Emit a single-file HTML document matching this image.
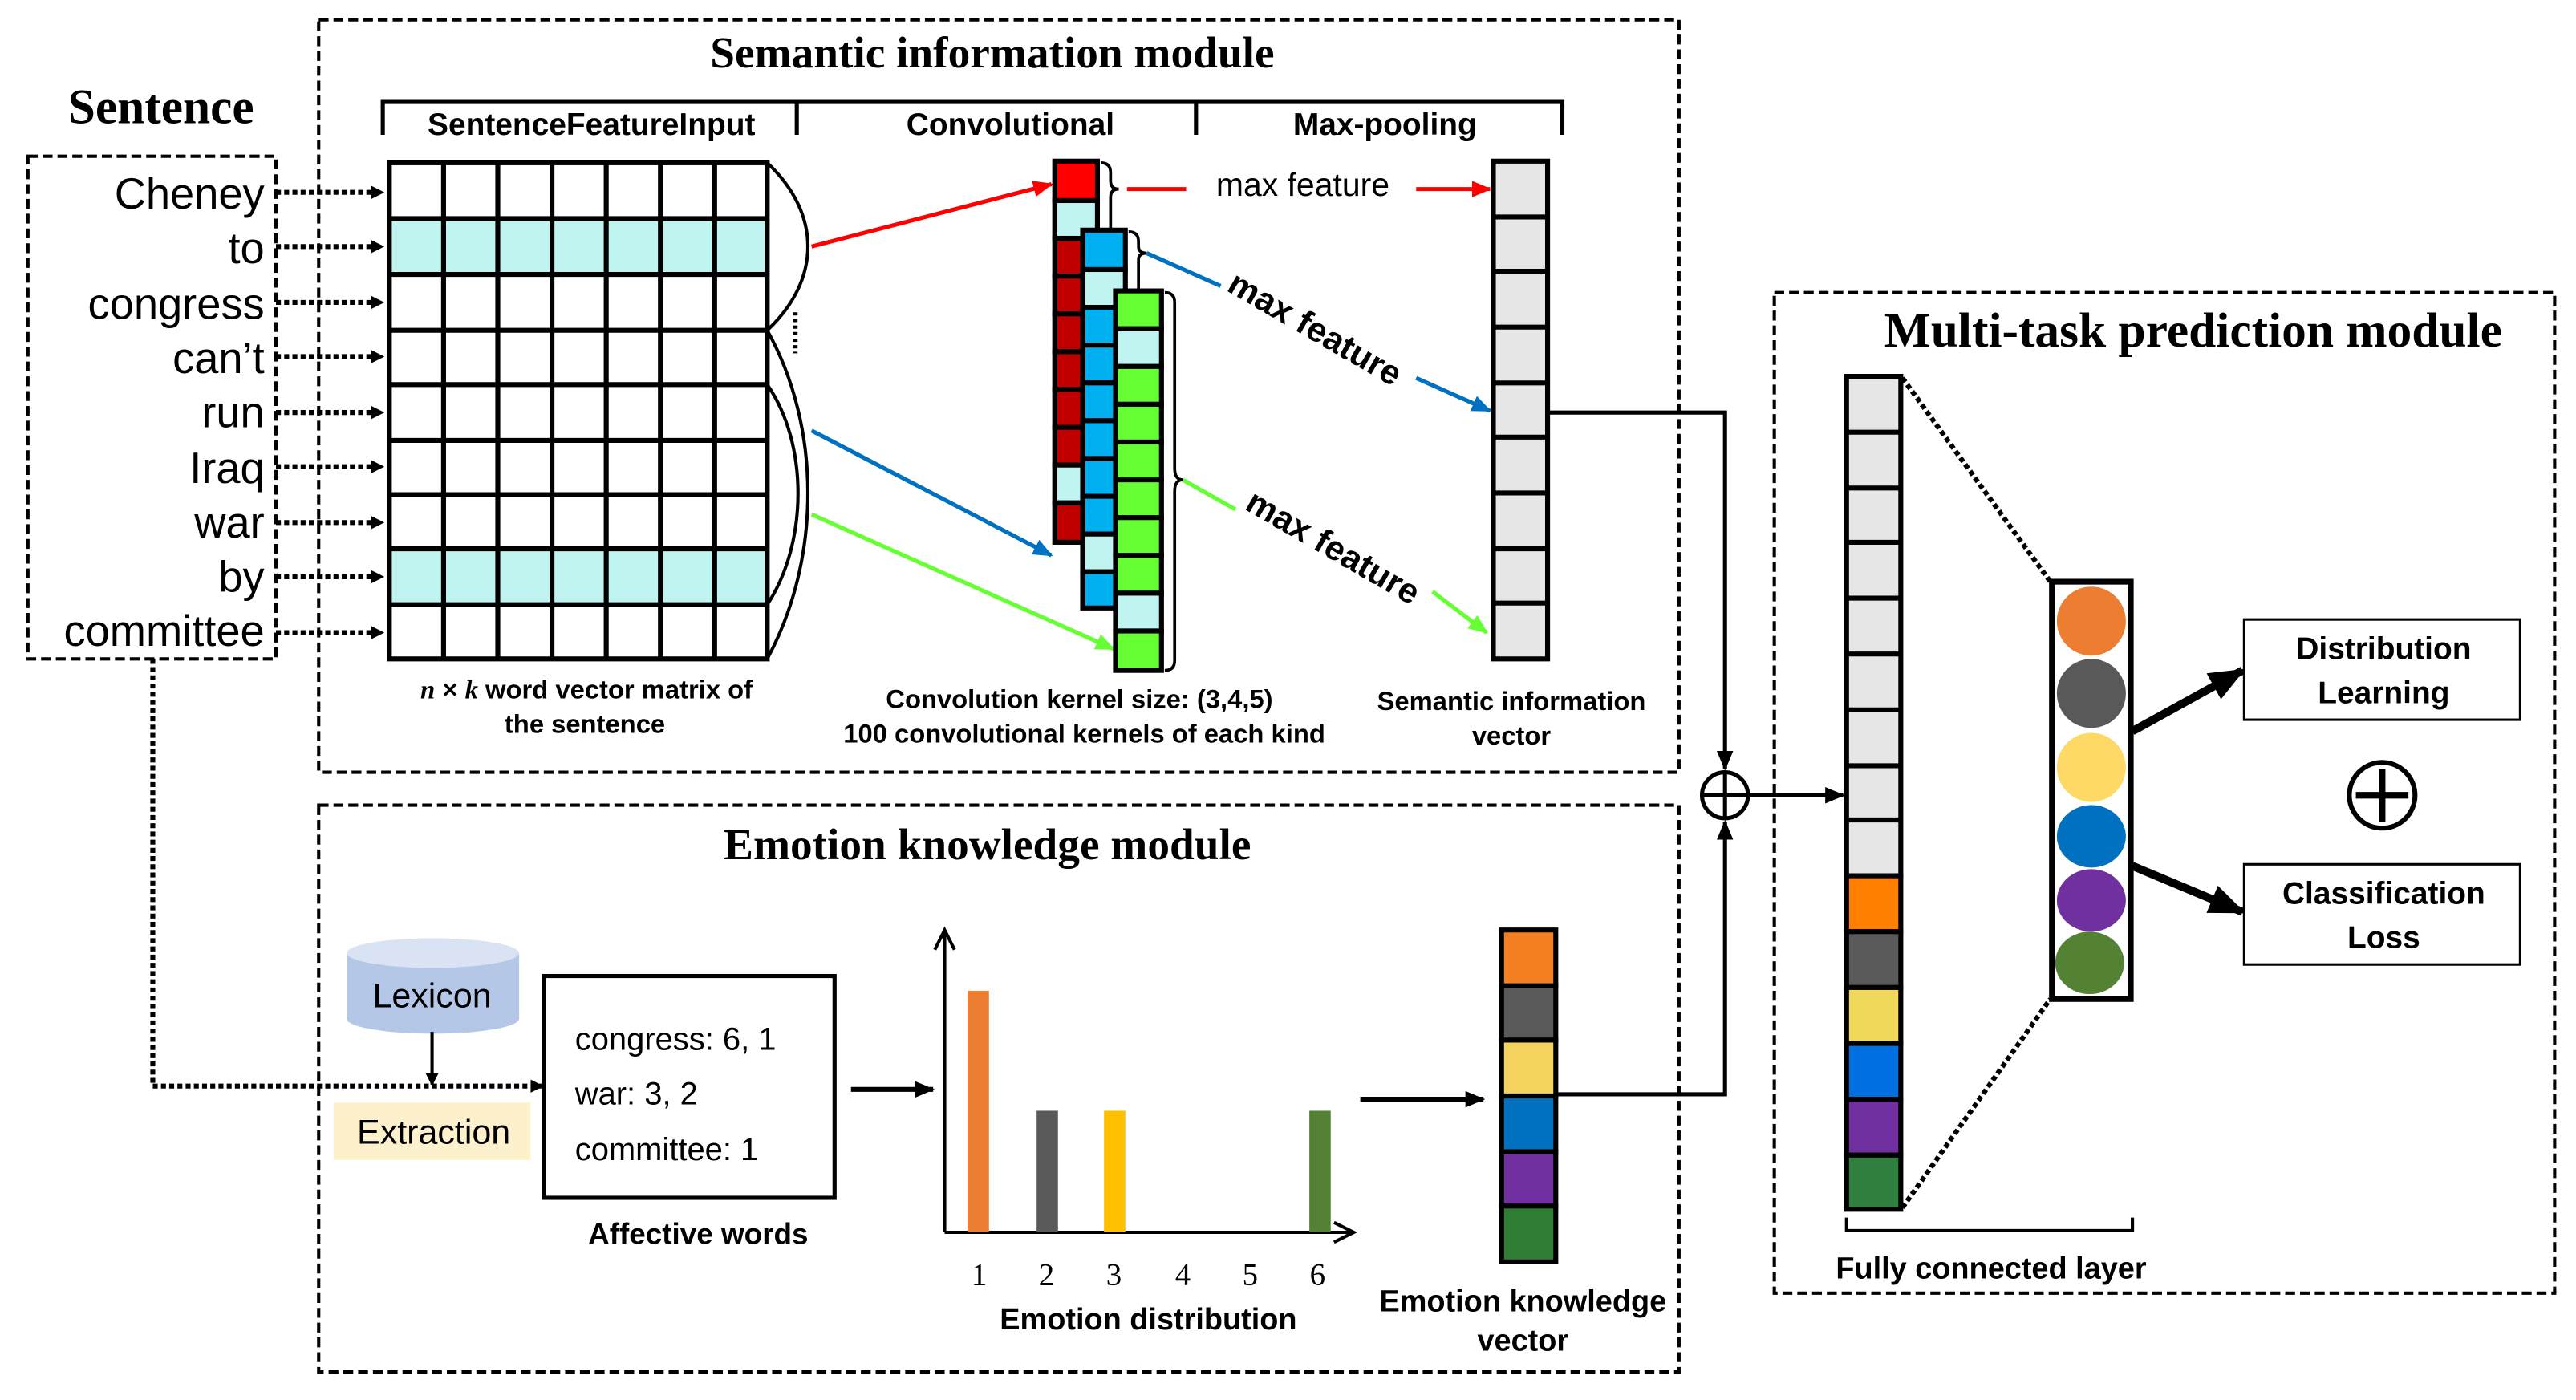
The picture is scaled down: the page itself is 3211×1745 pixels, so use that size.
<!DOCTYPE html>
<html><head><meta charset="utf-8"><style>html,body{margin:0;padding:0;background:#fff}svg{display:block}</style></head><body>
<svg width="3211" height="1745" viewBox="0 0 1568 852" xmlns="http://www.w3.org/2000/svg" font-family="Liberation Sans, sans-serif">
<defs>
<marker id="ak" markerWidth="8" markerHeight="8" refX="7" refY="4" orient="auto" markerUnits="userSpaceOnUse"><path d="M0,0L8,4L0,8z" fill="#000"/></marker>
<marker id="ar" markerWidth="12" markerHeight="12" refX="11" refY="6" orient="auto" markerUnits="userSpaceOnUse"><path d="M0,1L12,6L0,11z" fill="#f00"/></marker>
<marker id="ab" markerWidth="12" markerHeight="12" refX="11" refY="6" orient="auto" markerUnits="userSpaceOnUse"><path d="M0,1L12,6L0,11z" fill="#0070c0"/></marker>
<marker id="ag" markerWidth="12" markerHeight="12" refX="11" refY="6" orient="auto" markerUnits="userSpaceOnUse"><path d="M0,1L12,6L0,11z" fill="#66ff33"/></marker>
<marker id="ak2" markerWidth="12" markerHeight="12" refX="11" refY="6" orient="auto" markerUnits="userSpaceOnUse"><path d="M0,1L12,6L0,11z" fill="#000"/></marker>
<marker id="ak3" markerWidth="22" markerHeight="22" refX="20" refY="11" orient="auto" markerUnits="userSpaceOnUse"><path d="M0,2L22,11L0,20z" fill="#000"/></marker>
</defs>
<g fill="none" stroke="#000" stroke-width="2" stroke-dasharray="6,3">
<rect x="194" y="12" width="828" height="458"/>
<rect x="194" y="490" width="828" height="345"/>
<rect x="1080" y="178" width="475" height="609"/>
<rect x="17" y="95" width="151" height="306"/>
</g>
<g font-family="Liberation Serif, serif" font-weight="bold" text-anchor="middle">
<text x="604" y="41" font-size="27">Semantic information module</text>
<text x="601" y="523" font-size="27">Emotion knowledge module</text>
<text x="1335" y="211" font-size="30">Multi-task prediction module</text>
<text x="98" y="75" font-size="30">Sentence</text>
</g>
<path d="M233,82V62H951V82M485,62V82M728,62V82" fill="none" stroke="#000" stroke-width="2.5"/>
<g font-size="19" font-weight="bold" text-anchor="middle">
<text x="360" y="82">SentenceFeatureInput</text>
<text x="615" y="82">Convolutional</text>
<text x="843" y="82">Max-pooling</text>
</g>
<g font-size="26.5" text-anchor="end">
<text x="161" y="127">Cheney</text><text x="161" y="160">to</text><text x="161" y="194">congress</text><text x="161" y="227">can’t</text><text x="161" y="260">run</text><text x="161" y="294">Iraq</text><text x="161" y="327">war</text><text x="161" y="360">by</text><text x="161" y="393">committee</text>
</g>
<g stroke="#000" stroke-width="3" stroke-dasharray="3,2" marker-end="url(#ak)">
<line x1="168" y1="117" x2="233" y2="117"/><line x1="168" y1="150" x2="233" y2="150"/><line x1="168" y1="184" x2="233" y2="184"/><line x1="168" y1="217" x2="233" y2="217"/><line x1="168" y1="251" x2="233" y2="251"/><line x1="168" y1="284" x2="233" y2="284"/><line x1="168" y1="318" x2="233" y2="318"/><line x1="168" y1="351" x2="233" y2="351"/><line x1="168" y1="385" x2="233" y2="385"/>
</g>
<rect x="237" y="133" width="230" height="34" fill="#bff4f0"/>
<rect x="237" y="334" width="230" height="34" fill="#bff4f0"/>
<g stroke="#000" stroke-width="3" fill="none">
<rect x="237" y="99" width="230" height="302"/>
<path d="M270,99V401M303,99V401M336,99V401M369,99V401M402,99V401M435,99V401"/>
<path d="M237,133H467M237,167H467M237,201H467M237,234H467M237,268H467M237,301H467M237,334H467M237,368H467"/>
</g>
<g stroke="#000" stroke-width="2" fill="none">
<path d="M467,99C500,130 500,170 467,201"/>
<path d="M467,201C500,260 500,340 467,401"/>
<path d="M467,234C492,270 492,330 467,368"/>
<path d="M484,190V215" stroke-dasharray="2,2" stroke-width="3"/>
</g>
<line x1="494" y1="150" x2="640" y2="112" stroke="#f00" stroke-width="2.5" marker-end="url(#ar)"/>
<line x1="494" y1="262" x2="640" y2="338" stroke="#0070c0" stroke-width="2.5" marker-end="url(#ab)"/>
<line x1="494" y1="313" x2="678" y2="395" stroke="#66ff33" stroke-width="2.5" marker-end="url(#ag)"/>
<g stroke="#000" stroke-width="3">
<rect x="642" y="98" width="26" height="24" fill="#f00"/><rect x="642" y="122" width="26" height="23" fill="#bff4f0"/>
<rect x="642" y="145" width="26" height="23" fill="#c00000"/><rect x="642" y="168" width="26" height="23" fill="#c00000"/><rect x="642" y="191" width="26" height="23" fill="#c00000"/><rect x="642" y="214" width="26" height="23" fill="#c00000"/><rect x="642" y="237" width="26" height="23" fill="#c00000"/><rect x="642" y="260" width="26" height="23" fill="#c00000"/><rect x="642" y="283" width="26" height="23" fill="#bff4f0"/><rect x="642" y="306" width="26" height="24" fill="#c00000"/>
<rect x="659" y="140" width="26" height="24" fill="#00b0f0"/><rect x="659" y="164" width="26" height="23" fill="#bff4f0"/><rect x="659" y="187" width="26" height="23" fill="#00b0f0"/><rect x="659" y="210" width="26" height="23" fill="#00b0f0"/><rect x="659" y="233" width="26" height="23" fill="#00b0f0"/><rect x="659" y="256" width="26" height="23" fill="#00b0f0"/><rect x="659" y="279" width="26" height="23" fill="#00b0f0"/><rect x="659" y="302" width="26" height="23" fill="#00b0f0"/><rect x="659" y="325" width="26" height="23" fill="#bff4f0"/><rect x="659" y="348" width="26" height="22" fill="#00b0f0"/>
<rect x="679" y="177" width="28" height="23" fill="#66ff33"/><rect x="679" y="200" width="28" height="23" fill="#bff4f0"/><rect x="679" y="223" width="28" height="23" fill="#66ff33"/><rect x="679" y="246" width="28" height="23" fill="#66ff33"/><rect x="679" y="269" width="28" height="23" fill="#66ff33"/><rect x="679" y="292" width="28" height="23" fill="#66ff33"/><rect x="679" y="315" width="28" height="23" fill="#66ff33"/><rect x="679" y="338" width="28" height="23" fill="#66ff33"/><rect x="679" y="361" width="28" height="23" fill="#bff4f0"/><rect x="679" y="384" width="28" height="24" fill="#66ff33"/>
</g>
<g stroke="#000" stroke-width="1.8" fill="none">
<path d="M670,99Q676,99 676,105V110Q676,115 681,115Q676,115 676,120V140"/>
<path d="M687,141Q693,141 693,147V150Q693,154 698,154Q693,154 693,158V177"/>
<path d="M709,178Q715,178 715,184V285Q715,292 720,292Q715,292 715,299V402Q715,408 709,408"/>
</g>
<line x1="686" y1="115" x2="722" y2="115" stroke="#f00" stroke-width="2.5"/>
<line x1="862" y1="115" x2="907" y2="115" stroke="#f00" stroke-width="2.5" marker-end="url(#ar)"/>
<line x1="698" y1="154" x2="743" y2="174" stroke="#0070c0" stroke-width="2.5"/>
<line x1="862" y1="230" x2="907" y2="250" stroke="#0070c0" stroke-width="2.5" marker-end="url(#ab)"/>
<line x1="720" y1="292" x2="752" y2="310" stroke="#66ff33" stroke-width="2.5"/>
<line x1="872" y1="360" x2="905" y2="385" stroke="#66ff33" stroke-width="2.5" marker-end="url(#ag)"/>
<text x="793" y="119" font-size="20" text-anchor="middle">max feature</text>
<text x="0" y="0" font-size="21" font-weight="bold" text-anchor="middle" transform="translate(797,206) rotate(30)">max feature</text>
<text x="0" y="0" font-size="21" font-weight="bold" text-anchor="middle" transform="translate(808,339) rotate(30)">max feature</text>
<g stroke="#000" stroke-width="3" fill="#e6e6e6">
<rect x="909" y="98" width="33" height="303"/>
<path d="M909,132H942M909,165H942M909,199H942M909,233H942M909,266H942M909,300H942M909,334H942M909,367H942" fill="none"/>
</g>
<g font-size="16" font-weight="bold" text-anchor="middle">
<text x="357" y="425"><tspan font-family="Liberation Serif, serif" font-style="italic">n</tspan> × <tspan font-family="Liberation Serif, serif" font-style="italic">k</tspan> word vector matrix of</text>
<text x="356" y="446">the sentence</text>
<text x="657" y="431">Convolution kernel size: (3,4,5)</text>
<text x="660" y="452">100 convolutional kernels of each kind</text>
<text x="920" y="432">Semantic information</text>
<text x="920" y="453">vector</text>
</g>
<g stroke="#000" stroke-width="2.5" fill="none">
<path d="M942,251H1050V468" marker-end="url(#ak2)"/>
<path d="M947,666H1050V500" marker-end="url(#ak2)"/>
<line x1="1064" y1="484" x2="1122" y2="484" marker-end="url(#ak2)"/>
<circle cx="1050" cy="484" r="14"/>
<path d="M1036,484H1064M1050,470V498"/>
</g>
<path d="M211,580V620A52,9 0 0 0 316,620V580z" fill="#b4c7e7"/>
<ellipse cx="263.5" cy="580" rx="52.5" ry="9" fill="#dae3f3"/>
<text x="263" y="613" font-size="21" text-anchor="middle">Lexicon</text>
<line x1="263" y1="628" x2="263" y2="660" stroke="#000" stroke-width="2" marker-end="url(#ak)"/>
<rect x="203" y="671" width="120" height="35" fill="#fdf0cc"/>
<text x="264" y="696" font-size="21" text-anchor="middle">Extraction</text>
<path d="M93,401V661H330" fill="none" stroke="#000" stroke-width="3" stroke-dasharray="3,2" marker-end="url(#ak)"/>
<rect x="331" y="594" width="177" height="135" fill="none" stroke="#000" stroke-width="2.5"/>
<g font-size="19.5"><text x="350" y="639">congress: 6, 1</text><text x="350" y="672">war: 3, 2</text><text x="350" y="706">committee: 1</text></g>
<text x="425" y="757" font-size="18" font-weight="bold" text-anchor="middle">Affective words</text>
<line x1="518" y1="663" x2="568" y2="663" stroke="#000" stroke-width="3" marker-end="url(#ak2)"/>
<path d="M575,750V568M575,750H822" fill="none" stroke="#000" stroke-width="2"/>
<path d="M569,578L575,566L581,578M812,744L824,750L812,756" fill="none" stroke="#000" stroke-width="2"/>
<rect x="589" y="603" width="13" height="147" fill="#ed7d31"/>
<rect x="631" y="676" width="13" height="74" fill="#595959"/>
<rect x="672" y="676" width="13" height="74" fill="#ffc000"/>
<rect x="797" y="676" width="13" height="74" fill="#548235"/>
<g font-family="Liberation Serif, serif" font-size="19" text-anchor="middle"><text x="596" y="782">1</text><text x="637" y="782">2</text><text x="678" y="782">3</text><text x="720" y="782">4</text><text x="761" y="782">5</text><text x="802" y="782">6</text></g>
<text x="699" y="809" font-size="18.5" font-weight="bold" text-anchor="middle">Emotion distribution</text>
<line x1="828" y1="669" x2="903" y2="669" stroke="#000" stroke-width="3" marker-end="url(#ak2)"/>
<g stroke="#000" stroke-width="3">
<rect x="914" y="566" width="33" height="34" fill="#f47f20"/><rect x="914" y="600" width="33" height="33" fill="#595959"/><rect x="914" y="633" width="33" height="34" fill="#f4d35e"/><rect x="914" y="667" width="33" height="34" fill="#0070c0"/><rect x="914" y="701" width="33" height="33" fill="#7030a0"/><rect x="914" y="734" width="33" height="34" fill="#2e7d32"/>
</g>
<g font-size="18.5" font-weight="bold" text-anchor="middle"><text x="927" y="798">Emotion knowledge</text><text x="927" y="822">vector</text></g>
<g stroke="#000" stroke-width="3">
<rect x="1124" y="229" width="33" height="304" fill="#e6e6e6"/>
<path d="M1124,263H1157M1124,297H1157M1124,330H1157M1124,364H1157M1124,398H1157M1124,432H1157M1124,466H1157M1124,499H1157" fill="none"/>
<rect x="1124" y="533" width="33" height="34" fill="#ff8000"/><rect x="1124" y="567" width="33" height="34" fill="#595959"/><rect x="1124" y="601" width="33" height="34" fill="#f0d858"/><rect x="1124" y="635" width="33" height="34" fill="#0070e0"/><rect x="1124" y="669" width="33" height="34" fill="#7030a0"/><rect x="1124" y="703" width="33" height="33" fill="#2f7f3f"/>
</g>
<g stroke="#000" stroke-width="3" stroke-dasharray="3,2"><line x1="1158" y1="230" x2="1248" y2="354"/><line x1="1158" y1="735" x2="1248" y2="608"/></g>
<rect x="1249" y="354" width="48" height="254" fill="#fff" stroke="#000" stroke-width="3.5"/>
<ellipse cx="1273" cy="378" rx="21" ry="21" fill="#ed7d31"/><ellipse cx="1273" cy="422" rx="21" ry="21" fill="#595959"/><ellipse cx="1273" cy="467" rx="21" ry="21" fill="#ffd966"/><ellipse cx="1273" cy="509" rx="21" ry="19" fill="#0070c0"/><ellipse cx="1273" cy="548" rx="21" ry="19" fill="#7030a0"/><ellipse cx="1272" cy="586" rx="21" ry="19" fill="#548235"/>
<line x1="1298" y1="445" x2="1365" y2="408" stroke="#000" stroke-width="5" marker-end="url(#ak3)"/>
<line x1="1298" y1="527" x2="1365" y2="555" stroke="#000" stroke-width="5" marker-end="url(#ak3)"/>
<rect x="1366" y="377" width="168" height="61" fill="none" stroke="#000" stroke-width="1.5"/>
<rect x="1366" y="526" width="168" height="61" fill="none" stroke="#000" stroke-width="1.5"/>
<g font-size="19" font-weight="bold" text-anchor="middle"><text x="1451" y="401">Distribution</text><text x="1451" y="428">Learning</text><text x="1451" y="550">Classification</text><text x="1451" y="577">Loss</text></g>
<circle cx="1450" cy="484" r="20" fill="none" stroke="#000" stroke-width="3"/>
<path d="M1434,484H1466M1450,468V500" stroke="#000" stroke-width="4"/>
<path d="M1124,741V749H1298V741" fill="none" stroke="#000" stroke-width="2"/>
<text x="1212" y="778" font-size="18.5" font-weight="bold" text-anchor="middle">Fully connected layer</text>
</svg>
</body></html>
